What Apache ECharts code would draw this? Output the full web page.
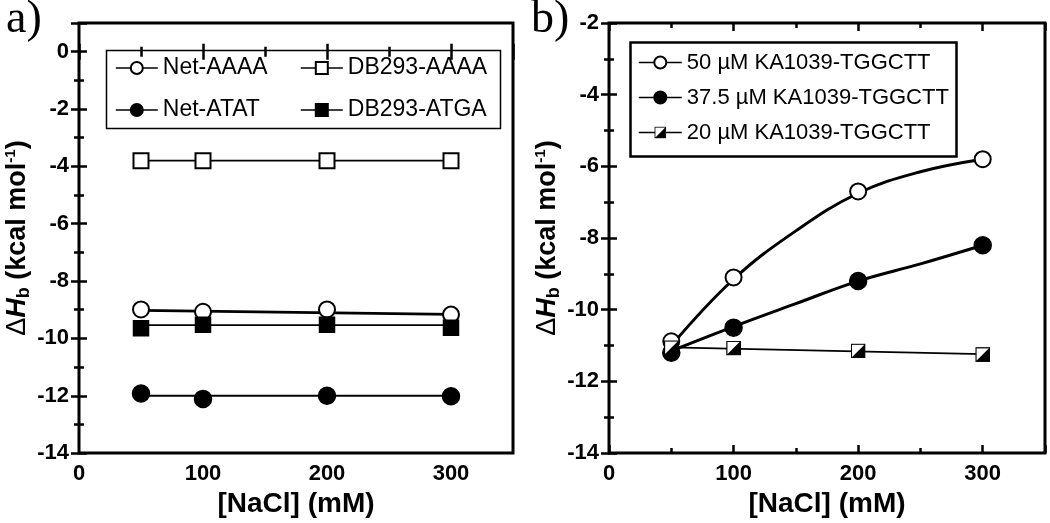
<!DOCTYPE html>
<html>
<head>
<meta charset="utf-8">
<script src="https://cdn.jsdelivr.net/npm/echarts@6/dist/echarts.min.js"></script>
<style>html,body{margin:0;padding:0;background:#fff}#c{width:1050px;height:523px}</style>
</head>
<body>
<div id="c"></div>
<script>
// ---- data ----
const nacl = [50, 100, 200, 300];
// panel a
const netAAAA = [-8.99, -9.07, -8.99, -9.17];
const db293AAAA = [-3.8, -3.8, -3.8, -3.8];
const netATAT = [-11.92, -12.11, -12.0, -12.02];
const db293ATGA = [-9.65, -9.52, -9.52, -9.63];
// fitted lines panel a (endpoints at 50 and 300 mM)
const fitAX = [50, 300];
const fitNetAAAA = [-9.02, -9.16];
const fitDB293AAAA = [-3.8, -3.8];
const fitNetATAT = [-12.0, -12.0];
const fitDB293ATGA = [-9.54, -9.54];
// panel b
const ka50 = [-10.88, -9.1, -6.7, -5.8];
const ka375 = [-11.2, -10.5, -9.2, -8.2];
const ka20 = [-11.06, -11.07, -11.15, -11.25];
// fitted curves panel b
const fitBX = [50, 100, 150, 200, 250, 300];
const fitKa50 = [-11.0, -9.15, -7.8, -6.75, -6.15, -5.8];
const fitKa375 = [-11.15, -10.47, -9.83, -9.2, -8.72, -8.2];
const fitKa20X = [50, 300];
const fitKa20 = [-11.05, -11.24];
// axis ticks
const xLabelVals = [0, 100, 200, 300];
const yLabelsA = [-14, -12, -10, -8, -6, -4, -2, 0];
const yLabelsB = [-14, -12, -10, -8, -6, -4, -2];

const names = {
  a: ['Net-AAAA', 'DB293-AAAA', 'Net-ATAT', 'DB293-ATGA'],
  b: ['50 µM KA1039-TGGCTT', '37.5 µM KA1039-TGGCTT', '20 µM KA1039-TGGCTT']
};

const pair = (xs, ys) => xs.map((x, i) => [x, ys[i]]);

const halfSvg = "<svg xmlns='http://www.w3.org/2000/svg' width='30' height='30' viewBox='0 0 30 30'>" +
  "<rect x='1.5' y='1.5' width='27' height='27' fill='white' stroke='black' stroke-width='2.5'/>" +
  "<path d='M1.5 28.5 L28.5 1.5 L28.5 28.5 Z' fill='black'/></svg>";
const halfSym = 'image://data:image/svg+xml;charset=utf-8,' + encodeURIComponent(halfSvg);

const FONT = 'Liberation Sans, Arial, sans-serif';
const grids = [
  { left: 79, top: 23, width: 434, height: 433, show: true, borderColor: '#000', borderWidth: 3, backgroundColor: 'transparent' },
  { left: 609, top: 23, width: 436, height: 433, show: true, borderColor: '#000', borderWidth: 3, backgroundColor: 'transparent' }
];

function xAxes(gi) {
  const base = { type: 'value', gridIndex: gi, min: 0, max: 350, axisLine: { show: false }, splitLine: { show: false } };
  return [
    Object.assign({}, base, { position: 'bottom', interval: 100,
      axisTick: { inside: true, length: 8, lineStyle: { color: '#000', width: 2.5 } },
      axisLabel: { margin: 10, color: '#000', fontSize: 22, fontWeight: 'bold', fontFamily: FONT,
        formatter: v => xLabelVals.includes(v) ? String(v) : '' },
      name: '[NaCl] (mM)', nameLocation: 'middle', nameGap: 35,
      nameTextStyle: { color: '#000', fontSize: 28, fontWeight: 'bold', fontFamily: FONT } }),
    Object.assign({}, base, { position: 'bottom', interval: 50,
      axisTick: { inside: true, length: 5, lineStyle: { color: '#000', width: 2.5 } }, axisLabel: { show: false } }),
    Object.assign({}, base, { position: 'top', interval: 100,
      axisTick: { inside: true, length: 8, lineStyle: { color: '#000', width: 2.5 } }, axisLabel: { show: false } }),
    Object.assign({}, base, { position: 'top', interval: 50,
      axisTick: { inside: true, length: 5, lineStyle: { color: '#000', width: 2.5 } }, axisLabel: { show: false } })
  ];
}
const yName = '{d|Δ}{h|H}{s|b}{t| (kcal mol}{p|-1}{t|)}';
const yRich = {
  d: { fontSize: 27, fontWeight: 'normal', fontFamily: FONT, color: '#000', lineHeight: 30 },
  h: { fontSize: 27, fontWeight: 'bold', fontStyle: 'italic', fontFamily: FONT, color: '#000', lineHeight: 30 },
  s: { fontSize: 18, fontWeight: 'bold', fontFamily: FONT, color: '#000', lineHeight: 17, verticalAlign: 'bottom' },
  t: { fontSize: 27, fontWeight: 'bold', fontFamily: FONT, color: '#000', lineHeight: 30 },
  p: { fontSize: 15, fontWeight: 'bold', fontFamily: FONT, color: '#000', lineHeight: 15, verticalAlign: 'top' }
};
function yAxes(gi, min, max, labels) {
  const base = { type: 'value', gridIndex: gi, min: min, max: max, axisLine: { show: false }, splitLine: { show: false } };
  return [
    Object.assign({}, base, { position: 'left', interval: 2,
      axisTick: { inside: true, length: 8, lineStyle: { color: '#000', width: 2.5 } },
      axisLabel: { margin: 10, color: '#000', fontSize: 22, fontWeight: 'bold', fontFamily: FONT,
        formatter: v => labels.includes(v) ? String(v) : '' },
      name: yName, nameLocation: 'middle', nameGap: 46, nameRotate: 90,
      nameTextStyle: { rich: yRich } }),
    Object.assign({}, base, { position: 'left', interval: 1,
      axisTick: { inside: true, length: 5, lineStyle: { color: '#000', width: 2.5 } }, axisLabel: { show: false } }),
    Object.assign({}, base, { position: 'right', interval: 2,
      axisTick: { inside: true, length: 8, lineStyle: { color: '#000', width: 2.5 } }, axisLabel: { show: false } }),
    Object.assign({}, base, { position: 'right', interval: 1,
      axisTick: { inside: true, length: 5, lineStyle: { color: '#000', width: 2.5 } }, axisLabel: { show: false } })
  ];
}

function fit(xi, yi, data, width, smooth) {
  return { type: 'line', name: 'fit', xAxisIndex: xi, yAxisIndex: yi, data: data, symbol: 'none', smooth: smooth ? 0.4 : false,
    lineStyle: { color: '#000', width: width }, z: 2, silent: true };
}
function pts(xi, yi, name, data, symbol, size) {
  return { type: 'line', name: name, xAxisIndex: xi, yAxisIndex: yi, data: data, symbol: symbol, symbolSize: size,
    lineStyle: { width: 0, opacity: 0 }, itemStyle: { color: '#000', borderColor: '#000', borderWidth: 1.5 }, z: 3 };
}

const legendCommon = {
  orient: 'vertical', itemWidth: 42, itemHeight: 15,
  textStyle: { color: '#000', fontSize: 23, fontFamily: FONT, lineHeight: 24 },
  lineStyle: { color: '#000', width: 1.6, opacity: 1 }, selectedMode: false, padding: 0
};

const option = {
  backgroundColor: '#fff',
  animation: false,
  grid: grids,
  xAxis: xAxes(0).concat(xAxes(1)),
  yAxis: yAxes(0, -14, 1, yLabelsA).concat(yAxes(1, -14, -2, yLabelsB)),
  legend: [
    Object.assign({}, legendCommon, { data: [names.a[0], names.a[2]], left: 115, top: 56, itemGap: 18 }),
    Object.assign({}, legendCommon, { data: [names.a[1], names.a[3]], left: 300, top: 56, itemGap: 18 }),
    Object.assign({}, legendCommon, { data: names.b, left: 638, top: 51, itemGap: 12, itemWidth: 43,
      textStyle: { color: '#000', fontSize: 22, fontFamily: FONT, lineHeight: 23 } })
  ],
  graphic: [
    { type: 'rect', left: 104, top: 48, shape: { width: 394, height: 78 }, style: { fill: 'none', stroke: '#000', lineWidth: 1.5 }, z: 10 },
    { type: 'rect', left: 628, top: 40, shape: { width: 326, height: 114 }, style: { fill: 'none', stroke: '#000', lineWidth: 2.5 }, z: 10 },
    { type: 'text', left: 6, top: -3, style: { text: 'a)', fontSize: 46, fontFamily: 'Liberation Serif, Times New Roman, serif', fill: '#000' } },
    { type: 'text', left: 531, top: -3, style: { text: 'b)', fontSize: 46, fontFamily: 'Liberation Serif, Times New Roman, serif', fill: '#000' } }
  ],
  series: [
    fit(0, 0, pair(fitAX, fitNetAAAA), 2.8, false),
    fit(0, 0, pair(fitAX, fitDB293AAAA), 1.8, false),
    fit(0, 0, pair(fitAX, fitNetATAT), 1.8, false),
    fit(0, 0, pair(fitAX, fitDB293ATGA), 1.8, false),
    pts(0, 0, names.a[0], pair(nacl, netAAAA), 'emptyCircle', 16),
    pts(0, 0, names.a[1], pair(nacl, db293AAAA), 'emptyRect', 15),
    pts(0, 0, names.a[2], pair(nacl, netATAT), 'circle', 17),
    pts(0, 0, names.a[3], pair(nacl, db293ATGA), 'rect', 15),
    fit(4, 4, pair(fitBX, fitKa50), 3, true),
    fit(4, 4, pair(fitBX, fitKa375), 3, true),
    fit(4, 4, pair(fitKa20X, fitKa20), 1.8, false),
    pts(4, 4, names.b[0], pair(nacl, ka50), 'emptyCircle', 16),
    pts(4, 4, names.b[1], pair(nacl, ka375), 'circle', 17),
    pts(4, 4, names.b[2], pair(nacl, ka20), halfSym, 15)
  ]
};
const chart = echarts.init(document.getElementById('c'), null, { renderer: 'canvas' });
chart.setOption(option);
</script>
</body>
</html>
